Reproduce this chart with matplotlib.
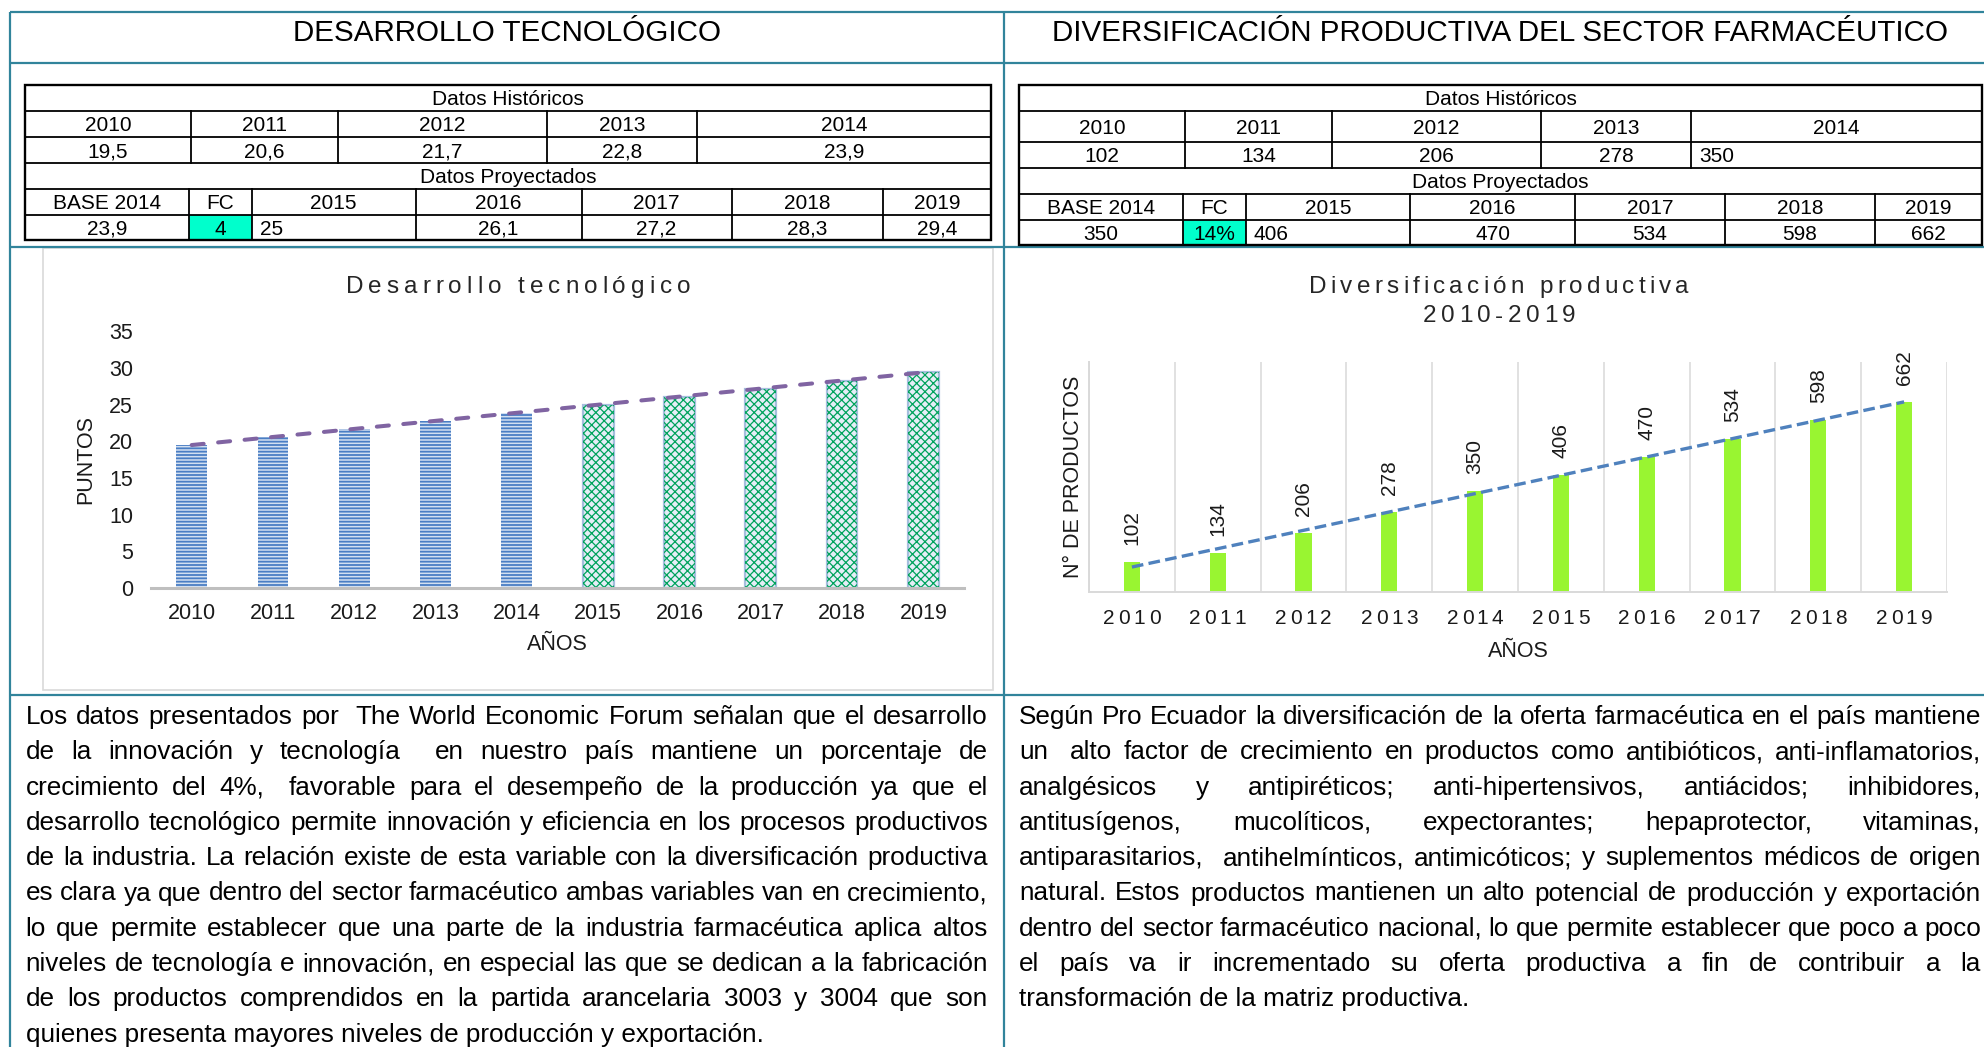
import numpy as np
import matplotlib
matplotlib.use('Agg')
import matplotlib.pyplot as plt
from matplotlib import font_manager
from matplotlib.font_manager import FontProperties
from matplotlib.ft2font import FT2Font
from matplotlib.patches import Rectangle

W, H, DPI = 1984, 1047, 100
FAMILY = 'Liberation Sans'
plt.rcParams['font.family'] = [FAMILY, 'DejaVu Sans']
plt.rcParams['hatch.linewidth'] = 1.3

# ---------------- data ----------------
years = ['2010', '2011', '2012', '2013', '2014', '2015', '2016', '2017', '2018', '2019']
tec_values = [19.5, 20.6, 21.7, 22.8, 23.9, 25.0, 26.1, 27.2, 28.3, 29.4]
div_values = [102, 134, 206, 278, 350, 406, 470, 534, 598, 662]
tec_fc = '4'
div_fc = '14%'
tec_yticks = [0, 5, 10, 15, 20, 25, 30, 35]

title_left = 'DESARROLLO TECNOLÓGICO'
title_right = 'DIVERSIFICACIÓN PRODUCTIVA DEL SECTOR FARMACÉUTICO'
chart_title_left = 'Desarrollo tecnológico'
chart_title_right = ['Diversificación productiva', '2010-2019']
ylabel_left = 'PUNTOS'
ylabel_right = 'N° DE PRODUCTOS'
xlabel = 'AÑOS'

para_left = [
    "Los datos presentados por  The World Economic Forum señalan que el desarrollo",
    "de la innovación y tecnología  en nuestro país mantiene un porcentaje de",
    "crecimiento del 4%,  favorable para el desempeño de la producción ya que el",
    "desarrollo tecnológico permite innovación y eficiencia en los procesos productivos",
    "de la industria. La relación existe de esta variable con la diversificación productiva",
    "es clara ya que dentro del sector farmacéutico ambas variables van en crecimiento,",
    "lo que permite establecer que una parte de la industria farmacéutica aplica altos",
    "niveles de tecnología e innovación, en especial las que se dedican a la fabricación",
    "de los productos comprendidos en la partida arancelaria 3003 y 3004 que son",
    "quienes presenta mayores niveles de producción y exportación.",
]
para_right = [
    "Según Pro Ecuador la diversificación de la oferta farmacéutica en el país mantiene",
    "un  alto factor de crecimiento en productos como antibióticos, anti-inflamatorios,",
    "analgésicos y antipiréticos; anti-hipertensivos, antiácidos; inhibidores,",
    "antitusígenos, mucolíticos, expectorantes; hepaprotector, vitaminas,",
    "antiparasitarios,  antihelmínticos, antimicóticos; y suplementos médicos de origen",
    "natural. Estos productos mantienen un alto potencial de producción y exportación",
    "dentro del sector farmacéutico nacional, lo que permite establecer que poco a poco",
    "el país va ir incrementado su oferta productiva a fin de contribuir a la",
    "transformación de la matriz productiva.",
]


def fmt(v):
    return f"{v:g}".replace('.', ',')


# ---------------- figure ----------------
fig = plt.figure(figsize=(W / DPI, H / DPI), dpi=DPI)
bg = fig.add_axes([0, 0, 1, 1])
bg.set_xlim(0, W)
bg.set_ylim(H, 0)
bg.axis('off')
bg.set_zorder(0)
renderer = fig.canvas.get_renderer()

_ft = FT2Font(font_manager.findfont(FontProperties(family=FAMILY)))


def advances(s, size):
    _ft.set_size(size, DPI)
    return [_ft.load_char(ord(c)).linearHoriAdvance / 65536 for c in s]


def spaced_text(xc, y, s, size, spacing, color='#262626'):
    adv = advances(s, size)
    total = sum(adv) + spacing * (len(s) - 1)
    x = xc - total / 2
    for c, a in zip(s, adv):
        if c != ' ':
            bg.text(x, y, c, fontsize=size, ha='left', va='baseline', color=color)
        x += a + spacing


def ax_rect(x0, y0, x1, y1):
    return [x0 / W, 1 - y1 / H, (x1 - x0) / W, (y1 - y0) / H]


TEAL = '#31849B'
CYAN = '#00FFCC'

# frame lines
for yy in [12.3, 63.3, 247, 695]:
    bg.plot([10, W], [yy, yy], color=TEAL, lw=1.6, solid_capstyle='butt')
for xx in [10, 1004]:
    bg.plot([xx, xx], [12.3, H], color=TEAL, lw=1.6, solid_capstyle='butt')

# titles
bg.text(507, 40.7, title_left, fontsize=21.3, ha='center', va='baseline', color='black')
bg.text(1500, 40.7, title_right, fontsize=21.3, ha='center', va='baseline', color='black')


# ---------------- tables ----------------
def draw_table(x0, x1, ys, hist_edges, proj_edges, rows, aligns):
    fs = 15
    bg.add_patch(Rectangle((proj_edges[1], ys[5]), proj_edges[2] - proj_edges[1], ys[6] - ys[5],
                           fc=CYAN, ec='none', zorder=1))
    bg.add_patch(Rectangle((x0, ys[0]), x1 - x0, ys[-1] - ys[0], fill=False, lw=1.7,
                           ec='black', zorder=3))
    for yy in ys[1:-1]:
        bg.plot([x0, x1], [yy, yy], color='black', lw=1.3, zorder=3)
    for xx in hist_edges[1:-1]:
        bg.plot([xx, xx], [ys[1], ys[3]], color='black', lw=1.3, zorder=3)
    for xx in proj_edges[1:-1]:
        bg.plot([xx, xx], [ys[4], ys[6]], color='black', lw=1.3, zorder=3)
    for r, (cells, al) in enumerate(zip(rows, aligns)):
        if r in (0, 3):
            edges = [x0, x1]
        elif r in (1, 2):
            edges = hist_edges
        else:
            edges = proj_edges
        ymid = (ys[r] + ys[r + 1]) / 2
        for c, s in enumerate(cells):
            xa, xb = edges[c], edges[c + 1]
            if al[c] == 'l':
                bg.text(xa + 8, ymid, s, fontsize=fs, ha='left', va='center_baseline', zorder=4)
            else:
                bg.text((xa + xb) / 2, ymid, s, fontsize=fs, ha='center', va='center_baseline', zorder=4)


tec_rows = [
    ['Datos Históricos'],
    years[:5],
    [fmt(v) for v in tec_values[:5]],
    ['Datos Proyectados'],
    ['BASE 2014', 'FC'] + years[5:],
    [fmt(tec_values[4]), tec_fc] + [fmt(v) for v in tec_values[5:]],
]
tec_aligns = [['c'], ['c'] * 5, ['c'] * 5, ['c'], ['c'] * 7, ['c', 'c', 'l', 'c', 'c', 'c', 'c']]
draw_table(25, 991, [85, 110.7, 136.7, 162.7, 189, 214.7, 240],
           [25, 191, 337.7, 546.6, 697, 991],
           [25, 189, 251.7, 415.7, 581.6, 731.5, 883.3, 991], tec_rows, tec_aligns)

div_rows = [
    ['Datos Históricos'],
    years[:5],
    [fmt(v) for v in div_values[:5]],
    ['Datos Proyectados'],
    ['BASE 2014', 'FC'] + years[5:],
    [fmt(div_values[4]), div_fc] + [fmt(v) for v in div_values[5:]],
]
div_aligns = [['c'], ['c'] * 5, ['c', 'c', 'c', 'c', 'l'], ['c'], ['c'] * 7,
              ['c', 'c', 'l', 'c', 'c', 'c', 'c']]
draw_table(1019, 1982, [85, 110.7, 141.7, 167.7, 194, 220, 245],
           [1019, 1185, 1331.7, 1541, 1691, 1982],
           [1019, 1182.7, 1245.7, 1410, 1575, 1725, 1875, 1982], div_rows, div_aligns)

# ---------------- left chart ----------------
bg.add_patch(Rectangle((43, 248), 993 - 43, 690 - 248, fill=False, ec='#D9D9D9', lw=1.2))
x = np.arange(len(years))
ax1 = fig.add_axes(ax_rect(151, 331.4, 964, 588))
ax1.set_zorder(2)
ax1.patch.set_alpha(0)
ax1.bar(x[:5], tec_values[:5], width=0.38, color='#D3E0F1', edgecolor='#4A7EC4',
        hatch='-----', linewidth=0, zorder=2)
ax1.bar(x[5:], tec_values[5:], width=0.38, color='#E6EEF7', edgecolor='#A6BFDD',
        linewidth=1.6, zorder=2)
green = ax1.bar(x[5:], tec_values[5:], width=0.38, color='none', edgecolor='#00A35C',
                hatch='xxxx', linewidth=0, zorder=2)
for p in green:
    try:
        p.set_hatch_linewidth(0.9)
    except AttributeError:
        pass
c1 = np.polyfit(x, tec_values, 1)
ax1.plot(x, np.polyval(c1, x), color='#8064A2', lw=2.9, ls=(0, (3.0, 3.6)),
         dash_capstyle='round', zorder=4)
ax1.set_xlim(-0.5, 9.5)
ax1.set_ylim(0, 35)
ax1.set_yticks(tec_yticks)
ax1.set_xticks(x)
ax1.set_xticklabels(years)
ax1.tick_params(axis='both', length=0, labelsize=15.5, labelcolor='#1A1A1A')
ax1.tick_params(axis='x', pad=11)
ax1.tick_params(axis='y', pad=13)
for s in ['top', 'right', 'left']:
    ax1.spines[s].set_visible(False)
ax1.spines['bottom'].set_color('#BFBFBF')
ax1.spines['bottom'].set_linewidth(2.2)
ax1.spines['bottom'].set_zorder(3)

spaced_text(518, 293, chart_title_left, 17.5, 5.0)
bg.text(86, 460, ylabel_left, fontsize=15.5, rotation=90, ha='center', va='center', color='#1A1A1A')
bg.text(557, 645, xlabel, fontsize=15.5, ha='center', va='center', color='#1A1A1A')

# ---------------- right chart ----------------
ax2 = fig.add_axes(ax_rect(1089, 362.3, 1947, 591.7))
ax2.set_zorder(2)
ax2.patch.set_alpha(0)
ax2.bar(x, div_values, width=0.19, color='#99F531', zorder=2)
c2 = np.polyfit(x, div_values, 1)
ax2.plot(x, np.polyval(c2, x), color='#4F81BD', lw=2.4, ls=(0, (3.5, 1.6)), zorder=4)
for xi, v in zip(x, div_values):
    ax2.annotate(str(v), (xi, v), xytext=(0, 17), textcoords='offset pixels', rotation=90,
                 ha='center', va='bottom', fontsize=15, color='#1A1A1A')
ax2.set_xlim(-0.5, 9.5)
ax2.set_ylim(0, 800)
ax2.set_xticks(x)
ax2.set_xticklabels([])
ax2.set_xticks(np.arange(-0.5, 10, 1), minor=True)
ax2.set_yticks([])
ax2.tick_params(axis='both', which='both', length=0)
ax2.grid(which='minor', axis='x', color='#D9D9D9', lw=1.1)
ax2.set_axisbelow(True)
for s in ['top', 'right']:
    ax2.spines[s].set_visible(False)
for s in ['left', 'bottom']:
    ax2.spines[s].set_color('#D9D9D9')
    ax2.spines[s].set_linewidth(1.4)
for xi, yr in zip(x, years):
    px = ax2.transData.transform((xi, 0))[0]
    spaced_text(px, 624, yr, 15, 3.5, color='#1A1A1A')

spaced_text(1499, 293, chart_title_right[0], 17.5, 4.2)
spaced_text(1499, 322.5, chart_title_right[1], 17.5, 4.6)
bg.text(1073.5, 477, ylabel_right, fontsize=15.5, rotation=90, ha='center', va='center', color='#1A1A1A')
bg.text(1518, 651.7, xlabel, fontsize=15.5, ha='center', va='center', color='#1A1A1A')

# ---------------- paragraphs ----------------
fp_par = FontProperties(family=FAMILY, size=18.8)


def wwidth(s):
    if not s:
        return 0.0
    return renderer.get_text_width_height_descent(s, fp_par, ismath=False)[0]


def justified(lines, x0, x1, y0, dy):
    for k, line in enumerate(lines):
        y = y0 + k * dy
        if k == len(lines) - 1:
            bg.text(x0, y, line, fontproperties=fp_par, ha='left', va='baseline', color='black')
            continue
        words = line.split(' ')
        widths = [wwidth(w) for w in words]
        gap = (x1 - x0 - sum(widths)) / (len(words) - 1)
        xx = x0
        for w, ww in zip(words, widths):
            if w:
                bg.text(xx, y, w, fontproperties=fp_par, ha='left', va='baseline', color='black')
            xx += ww + gap


justified(para_left, 25.5, 988, 724, 35.3)
justified(para_right, 1019, 1981, 724, 35.3)

fig.savefig('out.png', dpi=DPI, facecolor='white')
